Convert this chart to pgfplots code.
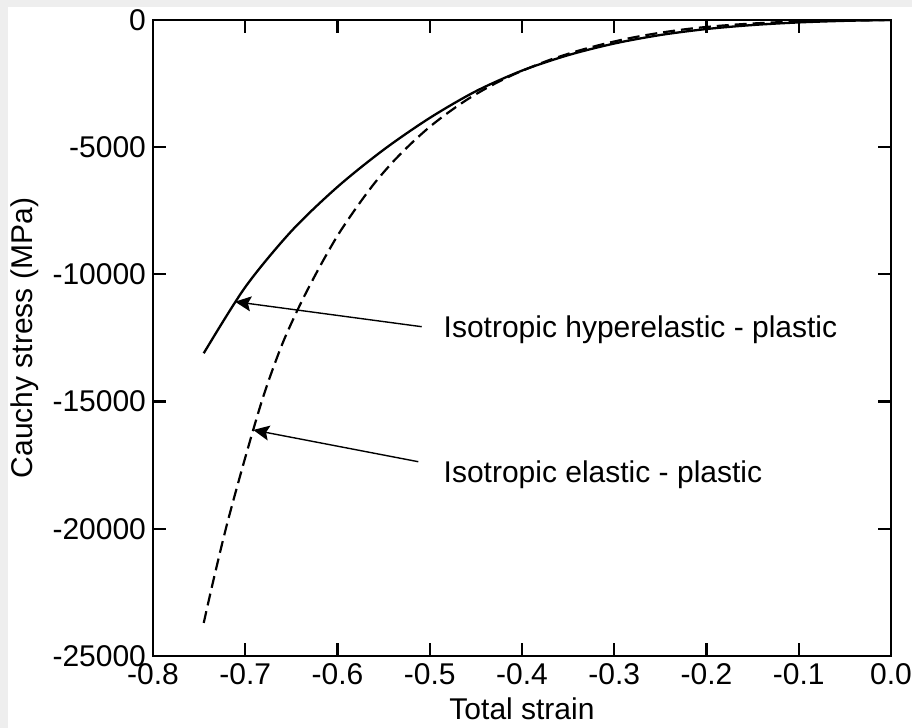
\documentclass[border=0pt]{standalone}
\usepackage{pgfplots}
\pgfplotsset{compat=1.18}
\usepackage{fontspec}
\setmainfont{Liberation Sans}
\usetikzlibrary{arrows.meta}
\definecolor{bggray}{RGB}{238,238,238}
\begin{document}
\begin{tikzpicture}[font=\fontsize{15}{18}\selectfont]
\path[use as bounding box] (-76.5pt,-36pt) rectangle (379.5pt,328pt);
\fill[bggray] (-76.5pt,-36pt) rectangle (379.5pt,328pt);
\fill[white] (-72.5pt,-36pt) rectangle (379.5pt,324.5pt);
\begin{axis}[
  at={(0,0)}, anchor=south west,
  scale only axis, width=369pt, height=318pt,
  xmin=-0.8, xmax=0, ymin=-25000, ymax=0,
  scaled x ticks=false, scaled y ticks=false,
  xtick={-0.8,-0.7,-0.6,-0.5,-0.4,-0.3,-0.2,-0.1,0},
  xticklabels={-0.8,-0.7,-0.6,-0.5,-0.4,-0.3,-0.2,-0.1,0.0},
  ytick={-25000,-20000,-15000,-10000,-5000,0},
  yticklabels={-25000,-20000,-15000,-10000,-5000,0},
  tick align=inside, tick pos=both,
  major tick length=6.5pt,
  every tick/.style={black, line width=1.1pt},
  axis line style={line width=1.2pt},
  xlabel={Total strain},
  ylabel={Cauchy stress (MPa)},
  every tick label/.append style={font=\fontsize{15}{18}\selectfont},
  label style={font=\fontsize{15}{18}\selectfont},
]
\addplot[black, line width=1.15pt, smooth] coordinates {
(-0.745,-13100) (-0.70,-10500) (-0.65,-8300) (-0.60,-6560) (-0.55,-5100)
(-0.50,-3850) (-0.45,-2800) (-0.40,-1990) (-0.35,-1383) (-0.30,-925)
(-0.25,-590) (-0.20,-355) (-0.15,-198) (-0.10,-95) (-0.05,-33) (0,0)
};
\addplot[black, line width=1.1pt, smooth, dash pattern=on 6pt off 3pt] coordinates {
(-0.745,-23700) (-0.735,-22100) (-0.72,-19850) (-0.70,-17200) (-0.68,-14750)
(-0.66,-12750) (-0.64,-11150) (-0.62,-9750) (-0.60,-8480) (-0.58,-7400)
(-0.56,-6420) (-0.54,-5580) (-0.52,-4850) (-0.50,-4200) (-0.48,-3640)
(-0.46,-3140) (-0.44,-2710) (-0.42,-2330) (-0.40,-2000) (-0.37,-1570)
(-0.34,-1220) (-0.31,-930) (-0.28,-690) (-0.25,-500) (-0.22,-350)
(-0.19,-240) (-0.16,-160) (-0.13,-100) (-0.10,-60) (-0.05,-22) (0,0)
};
\draw[line width=0.7pt, -{Stealth[length=8pt,width=7.5pt,inset=1.5pt]}] (axis cs:-0.5087,-12056) -- (axis cs:-0.7111,-11073);
\draw[line width=0.7pt, -{Stealth[length=8pt,width=7.5pt,inset=1.5pt]}] (axis cs:-0.5124,-17363) -- (axis cs:-0.6913,-16116);
\node[anchor=west, inner sep=0pt] at (axis cs:-0.4853,-12186) {Isotropic hyperelastic - plastic};
\node[anchor=west, inner sep=0pt] at (axis cs:-0.4853,-17885) {Isotropic elastic - plastic};
\end{axis}
\end{tikzpicture}
\end{document}
